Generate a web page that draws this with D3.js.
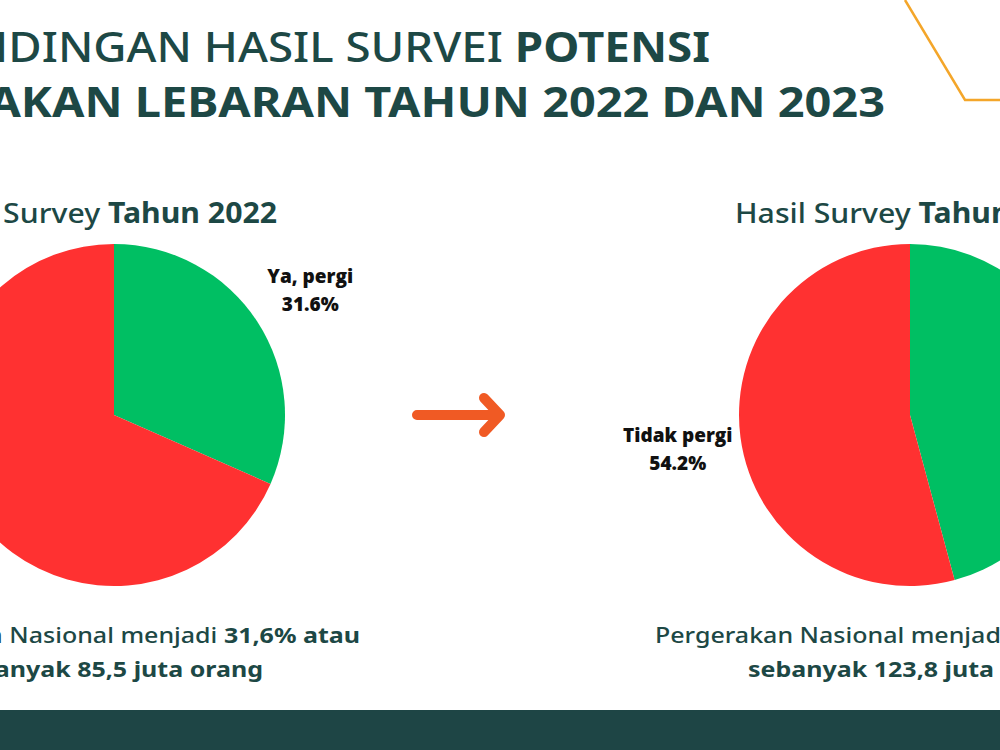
<!DOCTYPE html>
<html>
<head>
<meta charset="utf-8">
<script src="https://cdn.jsdelivr.net/npm/d3@7"></script>
<style>
  body { margin: 0; background: #fff; }
  svg { display: block; }
</style>
</head>
<body>
<svg id="chart"></svg>
<script>
// data
var categories = ["Ya, pergi", "Tidak pergi"];
var years = ["2022", "2023"];
var values2022 = [31.6, 68.4];
var values2023 = [45.8, 54.2];
var peopleMillions = ["85,5", "123,8"];

var width = 1000, height = 750;
var dark = "#1d4845";
var font = "Noto Sans";

var svg = d3.select("#chart")
    .attr("width", width)
    .attr("height", height);

// the slide font is wider than what we have, so stretch a text so that
// the characters from `from` to the end measure `target` pixels
function stretch(sel, from, target) {
    var node = sel.node();
    var n = node.getNumberOfChars();
    return target / node.getSubStringLength(from, n - from);
}
function place(sel, x, y, s) {
    sel.attr("transform", "translate(" + x + "," + y + ") scale(" + s + ",1)");
}

// decorative orange line, top right
svg.append("path")
    .attr("d", "M905,0 L965,100 L1000,100")
    .attr("fill", "none")
    .attr("stroke", "#f4a62a")
    .attr("stroke-width", 2.5);

// bottom band
svg.append("rect")
    .attr("x", 0).attr("y", 710)
    .attr("width", width).attr("height", 40)
    .attr("fill", "#1e4545");

// title
var t1 = svg.append("text")
    .attr("text-anchor", "end")
    .style("font-family", font)
    .style("font-size", "42px")
    .attr("fill", dark);
t1.append("tspan").attr("font-weight", 500).text("PERBANDINGAN HASIL SURVEI ");
t1.append("tspan").attr("font-weight", 700).text("POTENSI");
place(t1, 710, 62, stretch(t1, 6, 702));

var t2 = svg.append("text")
    .attr("text-anchor", "end")
    .style("font-family", font)
    .style("font-size", "42px")
    .attr("font-weight", 700)
    .attr("fill", dark)
    .text("PERGERAKAN LEBARAN TAHUN " + years[0] + " DAN " + years[1]);
place(t2, 885, 117, stretch(t2, 6, 897));

// pies
var color = d3.scaleOrdinal()
    .domain(categories)
    .range(["#00bf63", "#ff3131"]);

var r = 171;
var cx = d3.scalePoint().domain(years).range([114, 910]);
var cy = 415;

var pie = d3.pie().sort(null);
var arc = d3.arc().innerRadius(0).outerRadius(r);
var labelArc = d3.arc().innerRadius(r * 1.37).outerRadius(r * 1.37);

// text geometry for the subtitles and captions (left block, right block)
var subX = [277, 735], subAnchor = ["end", "start"];
var cap1X = [360, 655], cap2X = [263, 748];
var subScale, capScale;

[values2022, values2023].forEach(function(vals, i) {
    var year = years[i];
    var g = svg.append("g")
        .attr("transform", "translate(" + cx(year) + "," + cy + ")");

    var arcs = pie(vals);

    g.selectAll("path")
        .data(arcs)
        .enter().append("path")
        .attr("d", arc)
        .attr("fill", function(d, j) { return color(categories[j]); });

    var lab = g.selectAll(".lab")
        .data(arcs)
        .enter().append("text")
        .attr("class", "lab")
        .attr("transform", function(d) { return "translate(" + labelArc.centroid(d) + ")"; })
        .attr("text-anchor", "middle")
        .style("font-family", "Open Sans")
        .style("font-size", "19px")
        .attr("font-weight", 800)
        .attr("fill", "#111");
    lab.append("tspan").attr("x", 0).attr("y", -4)
        .text(function(d, j) { return categories[j]; });
    lab.append("tspan").attr("x", 0).attr("y", 24)
        .text(function(d) { return d.data.toFixed(1) + "%"; });

    // subtitle
    var st = svg.append("text")
        .attr("text-anchor", subAnchor[i])
        .style("font-family", font)
        .style("font-size", "28px")
        .attr("fill", dark);
    st.append("tspan").attr("font-weight", 500).text("Hasil Survey ");
    st.append("tspan").attr("font-weight", 700).text("Tahun " + year);
    if (i === 0) subScale = stretch(st, 6, 274);
    place(st, subX[i], 223, subScale);

    // caption
    var c1 = svg.append("text")
        .attr("text-anchor", subAnchor[i])
        .style("font-family", font)
        .style("font-size", "21px")
        .attr("fill", dark);
    c1.append("tspan").attr("font-weight", 500).text("Pergerakan Nasional menjadi ");
    c1.append("tspan").attr("font-weight", 700)
        .text(String(vals[0]).replace(".", ",") + "% atau");
    if (i === 0) capScale = stretch(c1, 11, 351);
    place(c1, cap1X[i], 643, capScale);

    var c2 = svg.append("text")
        .attr("text-anchor", subAnchor[i])
        .style("font-family", font)
        .style("font-size", "21px")
        .attr("font-weight", 700)
        .attr("fill", dark)
        .text("sebanyak " + peopleMillions[i] + " juta orang");
    place(c2, cap2X[i], 677, capScale);
});

// arrow between the pies
var mid = (cx(years[0]) + cx(years[1])) / 2;
svg.append("path")
    .attr("d", "M" + (mid - 95) + "," + cy + " H" + (mid - 14) +
         " M" + (mid - 28) + "," + (cy - 17) + " L" + (mid - 12) + "," + cy +
         " L" + (mid - 28) + "," + (cy + 17))
    .attr("fill", "none")
    .attr("stroke", "#f05a24")
    .attr("stroke-width", 10)
    .attr("stroke-linecap", "round")
    .attr("stroke-linejoin", "round");
</script>
</body>
</html>
